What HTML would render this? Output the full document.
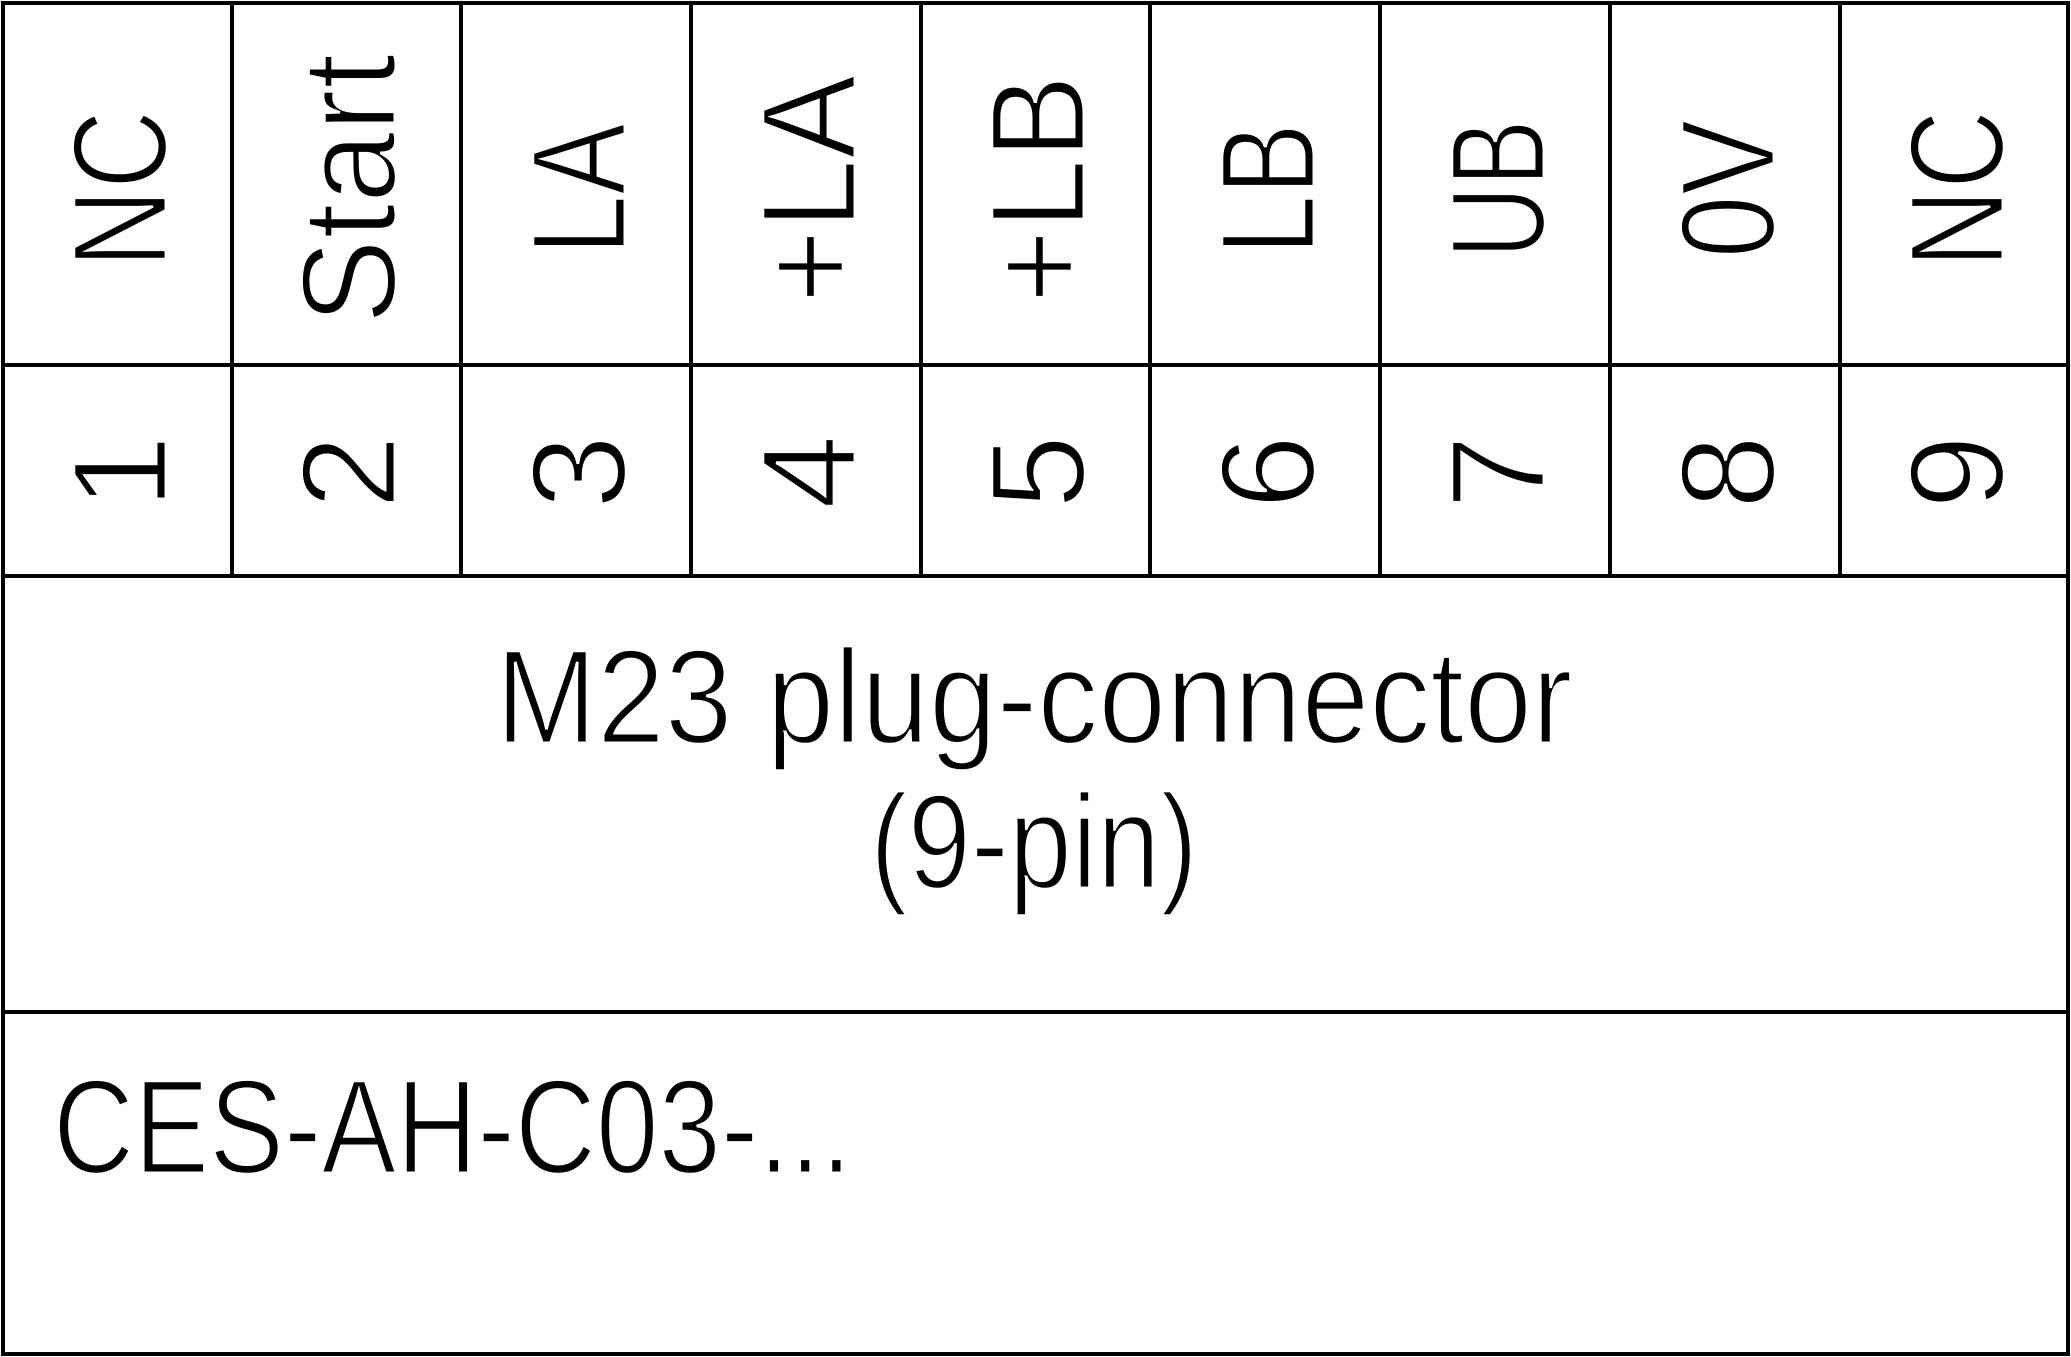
<!DOCTYPE html>
<html>
<head>
<meta charset="utf-8">
<style>
html,body{margin:0;padding:0;background:#fff;}
svg{display:block;}
text{font-family:"Liberation Sans Narrow","Liberation Sans",sans-serif;font-size:134px;fill:#000;stroke:#fff;stroke-width:3px;paint-order:normal;}
</style>
</head>
<body>
<svg width="2071" height="1357" viewBox="0 0 2071 1357" xmlns="http://www.w3.org/2000/svg">
<rect x="0" y="0" width="2071" height="1357" fill="#fff"/>
<g stroke="#000" stroke-width="4" fill="none">
<rect x="3" y="3" width="2065" height="1351"/>
<line x1="3" y1="365" x2="2068" y2="365"/>
<line x1="3" y1="576" x2="2068" y2="576"/>
<line x1="3" y1="1012" x2="2068" y2="1012"/>
<line x1="232" y1="3" x2="232" y2="576"/>
<line x1="461" y1="3" x2="461" y2="576"/>
<line x1="691" y1="3" x2="691" y2="576"/>
<line x1="921" y1="3" x2="921" y2="576"/>
<line x1="1150" y1="3" x2="1150" y2="576"/>
<line x1="1380" y1="3" x2="1380" y2="576"/>
<line x1="1610" y1="3" x2="1610" y2="576"/>
<line x1="1840" y1="3" x2="1840" y2="576"/>
</g>
<g text-anchor="middle">
<text transform="translate(117,189) rotate(-90)" x="0" y="49" textLength="158" lengthAdjust="spacingAndGlyphs">NC</text>
<text transform="translate(346,189) rotate(-90)" x="0" y="49" textLength="271" lengthAdjust="spacingAndGlyphs">Start</text>
<text transform="translate(576,189) rotate(-90)" x="0" y="49" textLength="132" lengthAdjust="spacingAndGlyphs">LA</text>
<text transform="translate(806,189) rotate(-90)" x="0" y="49" textLength="229" lengthAdjust="spacingAndGlyphs">+LA</text>
<text transform="translate(1035,189) rotate(-90)" x="0" y="49" textLength="229" lengthAdjust="spacingAndGlyphs">+LB</text>
<text transform="translate(1265,189) rotate(-90)" x="0" y="49" textLength="132" lengthAdjust="spacingAndGlyphs">LB</text>
<text transform="translate(1495,189) rotate(-90)" x="0" y="49" textLength="139" lengthAdjust="spacingAndGlyphs">UB</text>
<text transform="translate(1725,189) rotate(-90)" x="0" y="49" textLength="139" lengthAdjust="spacingAndGlyphs">0V</text>
<text transform="translate(1954,189) rotate(-90)" x="0" y="49" textLength="158" lengthAdjust="spacingAndGlyphs">NC</text>

<text transform="translate(117,472) rotate(-90)" x="0" y="49">1</text>
<text transform="translate(346,472) rotate(-90)" x="0" y="49">2</text>
<text transform="translate(576,472) rotate(-90)" x="0" y="49">3</text>
<text transform="translate(806,472) rotate(-90)" x="0" y="49">4</text>
<text transform="translate(1035,472) rotate(-90)" x="0" y="49">5</text>
<text transform="translate(1265,472) rotate(-90)" x="0" y="49">6</text>
<text transform="translate(1495,472) rotate(-90)" x="0" y="49">7</text>
<text transform="translate(1725,472) rotate(-90)" x="0" y="49">8</text>
<text transform="translate(1954,472) rotate(-90)" x="0" y="49">9</text>

<text x="1034" y="743" textLength="1077" lengthAdjust="spacingAndGlyphs">M23 plug-connector</text>
<text x="1034" y="888" textLength="328" lengthAdjust="spacingAndGlyphs">(9-pin)</text>
</g>
<text x="53" y="1173" textLength="799" lengthAdjust="spacingAndGlyphs">CES-AH-C03-...</text>
</svg>
</body>
</html>
